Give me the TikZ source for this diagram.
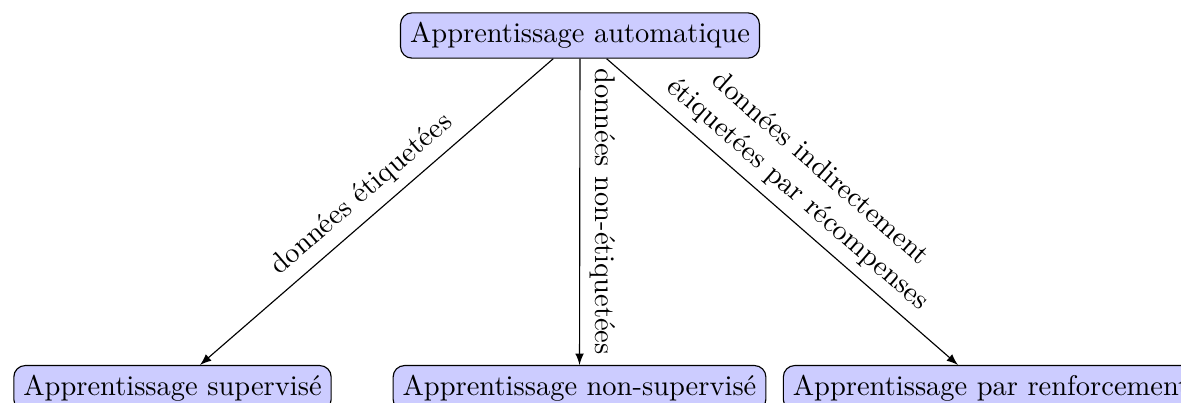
\documentclass[tikz,border=0pt]{standalone}
\usetikzlibrary{calc,arrows}
\begin{document}
\begin{tikzpicture}[x=0.351pt,y=-0.351pt,
    bloc/.style={draw,rounded corners,fill=blue!20}]
    \useasboundingbox (0,0) rectangle (1181,403);
    \clip (0,0) rectangle (1181,403);
    \node[bloc] (auto) at (580,35.5) {Apprentissage automatique};
    \node[bloc,anchor=north] (sup) at (172.5,365) {Apprentissage supervisé};
    \node[bloc,anchor=north] (nonsup) at (579.5,365) {Apprentissage non-supervisé};
    \node[bloc,anchor=north] (renf) at (991,365) {Apprentissage par renforcement};
    %%% fleches
    \draw[-latex] (auto) -- node[above,sloped] {données étiquetées} ($(sup.north)+(27.5,0)$);
    \draw[-latex] (auto) -- node[anchor=south,rotate=-90] {données non-étiquetées} (nonsup);
    \draw[-latex] (auto) -- node[above,sloped,align=center] {données indirectement\\étiquetées par récompenses} ($(renf.north)+(-33,0)$);
\end{tikzpicture}
\end{document}
